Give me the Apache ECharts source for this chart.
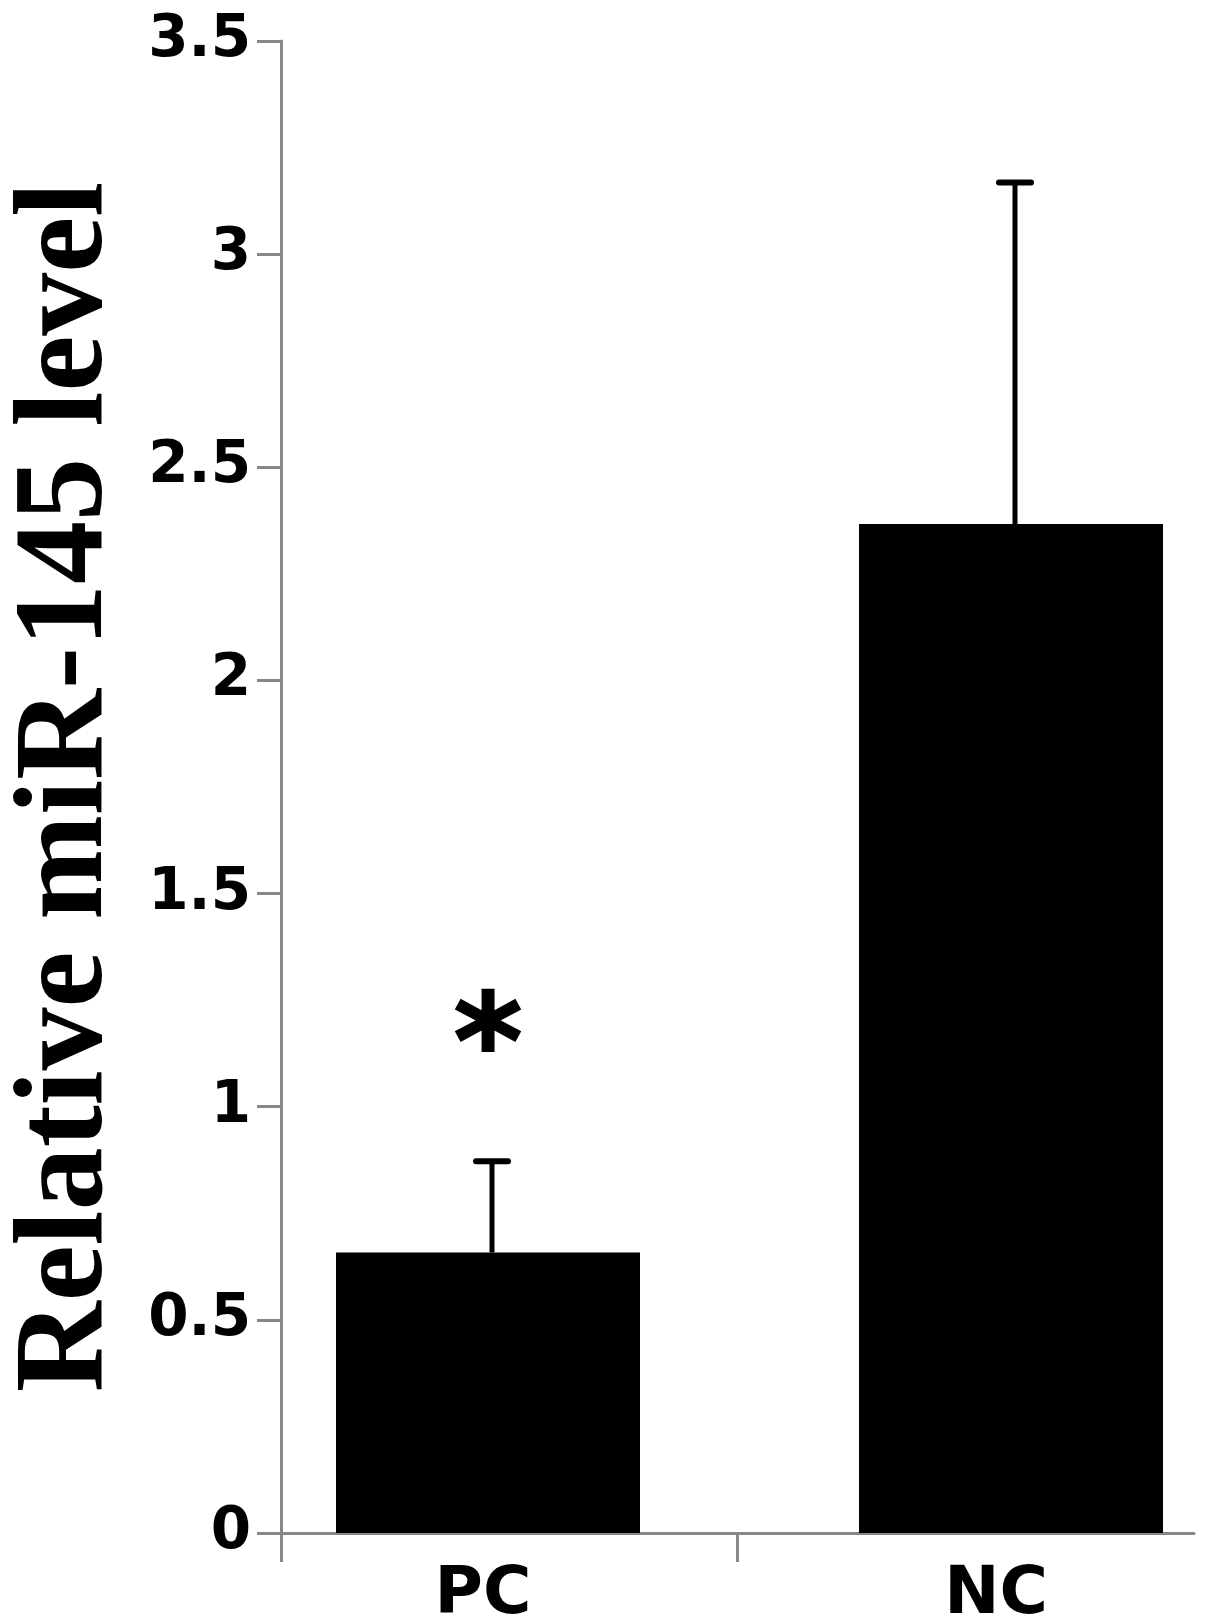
<!DOCTYPE html>
<html>
<head>
<meta charset="utf-8">
<script src="https://cdn.jsdelivr.net/npm/echarts@6/dist/echarts.min.js"></script>
<style>
html,body{margin:0;padding:0;background:#fff;}
#chart{width:1205px;height:1623px;}
</style>
</head>
<body>
<div id="chart"></div>
<script>
// ---- data ----
const categories = ['PC', 'NC'];
const means = [0.658, 2.367];
const errors = [0.214, 0.801];
const marks = ['*', ''];
const yTickLabels = ['0', '0.5', '1', '1.5', '2', '2.5', '3', '3.5'];
const yAxisTitle = 'Relative miR-145 level';

const chart = echarts.init(document.getElementById('chart'), null, {renderer: 'canvas'});

const axisGrey = '#878787';
const errData = categories.map((c, i) => [i, means[i], errors[i]]);
const labelShift = [10, 30];
const catItems = categories.map((c, i) => ({value: c, textStyle: {padding: [0, labelShift[i], 0, 0]}}));

const option = {
  backgroundColor: '#ffffff',
  animation: false,
  grid: [
    {left: 281, right: 11, top: 41, bottom: 90, containLabel: false, outerBoundsMode: 'none'},
    {left: 226.5, width: 1046, top: 41, bottom: 90, containLabel: false, outerBoundsMode: 'none'}
  ],
  xAxis: [
    {
      gridIndex: 0, type: 'value', min: 0, max: 2, interval: 1,
      axisLine: {show: true, lineStyle: {color: axisGrey, width: 3}},
      axisTick: {show: true, length: 29, inside: false, customValues: [0, 1], lineStyle: {color: axisGrey, width: 3}},
      axisLabel: {show: false},
      splitLine: {show: false}
    },
    {
      gridIndex: 1, type: 'category', data: catItems,
      axisLine: {show: false}, axisTick: {show: false},
      axisLabel: {
        show: true, margin: 30, color: '#000',
        fontFamily: 'DejaVu Sans', fontWeight: 'bold', fontSize: 66
      },
      splitLine: {show: false}
    }
  ],
  yAxis: [
    {
      gridIndex: 0, type: 'value', min: 0, max: 3.5, interval: 0.5,
      name: yAxisTitle, nameLocation: 'middle', nameGap: 150, nameRotate: 90,
      nameTextStyle: {fontFamily: 'Liberation Serif', fontWeight: 'bold', fontSize: 126, color: '#000'},
      axisLine: {show: true, lineStyle: {color: axisGrey, width: 3}},
      axisTick: {show: true, length: 24, inside: false, lineStyle: {color: axisGrey, width: 3}},
      axisLabel: {
        show: true, margin: 30, color: '#000',
        fontFamily: 'DejaVu Sans', fontWeight: 'bold', fontSize: 58,
        formatter: (v) => yTickLabels[Math.round(v / 0.5)]
      },
      splitLine: {show: false}
    },
    {
      gridIndex: 1, type: 'value', min: 0, max: 3.5, interval: 0.5, show: false
    }
  ],
  series: [
    {
      type: 'bar', xAxisIndex: 1, yAxisIndex: 1, data: means,
      barWidth: 304, itemStyle: {color: '#000'}, z: 2
    },
    {
      type: 'custom', xAxisIndex: 1, yAxisIndex: 1, data: errData, z: 3,
      renderItem: function (params, api) {
        const idx = api.value(0);
        const base = api.coord([idx, api.value(1)]);
        const top = api.coord([idx, api.value(1) + api.value(2)]);
        const cx = base[0] + 4;
        const half = 16;
        const children = [
          {type: 'line', shape: {x1: cx, y1: base[1], x2: cx, y2: top[1]}, style: {stroke: '#000', lineWidth: 5}},
          {type: 'line', shape: {x1: cx - half, y1: top[1], x2: cx + half, y2: top[1]}, style: {stroke: '#000', lineWidth: 6, lineCap: 'round'}}
        ];
        const m = marks[idx];
        if (m) {
          children.push({
            type: 'text',
            style: {
              x: cx - 4, y: top[1] - 108, text: m,
              fontFamily: 'DejaVu Sans', fontWeight: 'bold', fontSize: 132,
              fill: '#000', stroke: '#000', lineWidth: 2,
              align: 'center', verticalAlign: 'middle'
            }
          });
        }
        return {type: 'group', children: children};
      }
    }
  ]
};
chart.setOption(option);
</script>
</body>
</html>
